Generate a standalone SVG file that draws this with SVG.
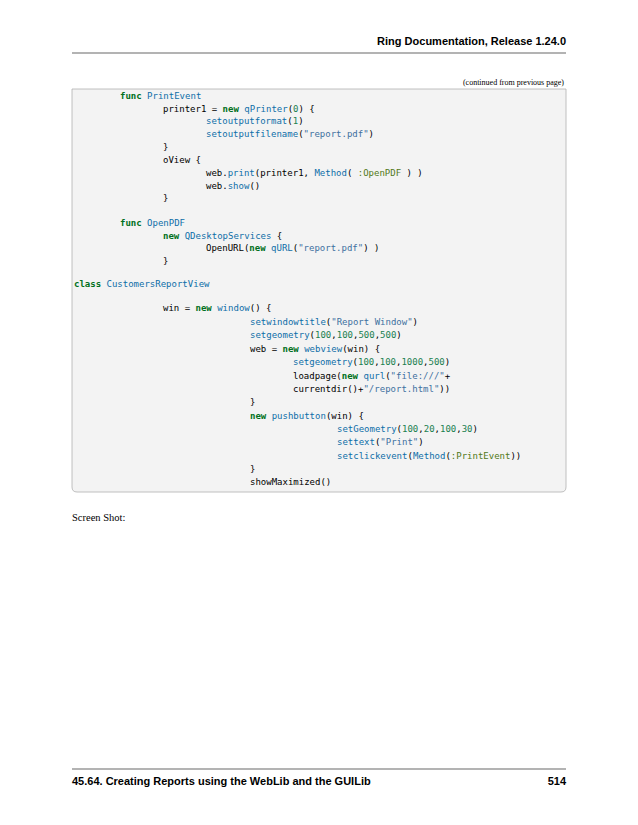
<svg xmlns="http://www.w3.org/2000/svg" width="638" height="825" viewBox="0 0 638 825">
<style>
.h{font-family:"Liberation Sans",Arial,sans-serif;font-weight:bold;font-size:11px;fill:#000}
.s{font-family:"Liberation Serif","Times New Roman",serif;fill:#000}
.c{font-family:"DejaVu Sans Mono",monospace;font-size:9px;fill:#000;white-space:pre}
.k{fill:#007020;font-weight:bold}
.f{fill:#0e6ea8}
.n{fill:#208050}
.st{fill:#4070a0}
.sy{fill:#517918}
</style>
<rect width="638" height="825" fill="#fff"/>
<text class="h" x="566" y="45" text-anchor="end">Ring Documentation, Release 1.24.0</text>
<line x1="72" y1="53" x2="566" y2="53" stroke="#000" stroke-width="0.6"/>
<text class="s" x="564" y="85" font-size="8" text-anchor="end">(continued from previous page)</text>
<path d="M72,89 H566 V487 Q566,492 561,492 H77 Q72,492 72,487 Z" fill="#f3f3f3" stroke="#b0b0b0" stroke-width="0.8"/>
<g id="code">
<text class="c" x="120" y="99"><tspan class="k">func</tspan> <tspan class="f">PrintEvent</tspan></text>
<text class="c" x="163" y="112">printer1 = <tspan class="k">new</tspan> <tspan class="f">qPrinter</tspan>(<tspan class="n">0</tspan>) {</text>
<text class="c" x="206" y="124"><tspan class="f">setoutputformat</tspan>(<tspan class="n">1</tspan>)</text>
<text class="c" x="206" y="137"><tspan class="f">setoutputfilename</tspan>(<tspan class="st">"report.pdf"</tspan>)</text>
<text class="c" x="163" y="150">}</text>
<text class="c" x="163" y="163">oView {</text>
<text class="c" x="206" y="176">web.<tspan class="f">print</tspan>(printer1, <tspan class="f">Method</tspan>( <tspan class="sy">:OpenPDF</tspan> ) )</text>
<text class="c" x="206" y="189">web.<tspan class="f">show</tspan>()</text>
<text class="c" x="163" y="201">}</text>
<text class="c" x="120" y="226"><tspan class="k">func</tspan> <tspan class="f">OpenPDF</tspan></text>
<text class="c" x="163" y="239"><tspan class="k">new</tspan> <tspan class="f">QDesktopServices</tspan> {</text>
<text class="c" x="206" y="251">OpenURL(<tspan class="k">new</tspan> <tspan class="f">qURL</tspan>(<tspan class="st">"report.pdf"</tspan>) )</text>
<text class="c" x="163" y="264">}</text>
<text class="c" x="74" y="287"><tspan class="k">class</tspan> <tspan class="f">CustomersReportView</tspan></text>
<text class="c" x="163" y="311">win = <tspan class="k">new</tspan> <tspan class="f">window</tspan>() {</text>
<text class="c" x="250" y="325"><tspan class="f">setwindowtitle</tspan>(<tspan class="st">"Report Window"</tspan>)</text>
<text class="c" x="250" y="338"><tspan class="f">setgeometry</tspan>(<tspan class="n">100</tspan>,<tspan class="n">100</tspan>,<tspan class="n">500</tspan>,<tspan class="n">500</tspan>)</text>
<text class="c" x="250" y="352">web = <tspan class="k">new</tspan> <tspan class="f">webview</tspan>(win) {</text>
<text class="c" x="293" y="365"><tspan class="f">setgeometry</tspan>(<tspan class="n">100</tspan>,<tspan class="n">100</tspan>,<tspan class="n">1000</tspan>,<tspan class="n">500</tspan>)</text>
<text class="c" x="293" y="379">loadpage(<tspan class="k">new</tspan> <tspan class="f">qurl</tspan>(<tspan class="st">"file:///"</tspan>+</text>
<text class="c" x="293" y="392">currentdir()+<tspan class="st">"/report.html"</tspan>))</text>
<text class="c" x="250" y="405">}</text>
<text class="c" x="250" y="419"><tspan class="k">new</tspan> <tspan class="f">pushbutton</tspan>(win) {</text>
<text class="c" x="337" y="432"><tspan class="f">setGeometry</tspan>(<tspan class="n">100</tspan>,<tspan class="n">20</tspan>,<tspan class="n">100</tspan>,<tspan class="n">30</tspan>)</text>
<text class="c" x="337" y="445"><tspan class="f">settext</tspan>(<tspan class="st">"Print"</tspan>)</text>
<text class="c" x="337" y="459"><tspan class="f">setclickevent</tspan>(<tspan class="f">Method</tspan>(<tspan class="sy">:PrintEvent</tspan>))</text>
<text class="c" x="250" y="472">}</text>
<text class="c" x="250" y="485">showMaximized()</text>
<text class="c" x="206" y="498" visibility="hidden"> </text>
</g>
<text class="s" x="72" y="521" font-size="10.5">Screen Shot:</text>
<line x1="72" y1="769" x2="566" y2="769" stroke="#000" stroke-width="0.6"/>
<text class="h" x="72" y="785">45.64. Creating Reports using the WebLib and the GUILib</text>
<text class="h" x="566" y="785" text-anchor="end">514</text>
</svg>
